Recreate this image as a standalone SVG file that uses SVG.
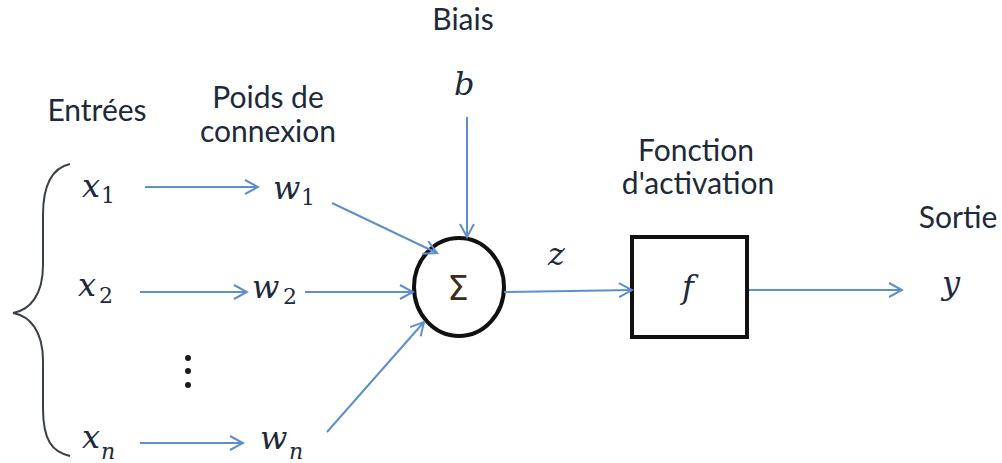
<svg xmlns="http://www.w3.org/2000/svg" width="1002" height="463" viewBox="0 0 1002 463">
<style>
.lbl{font-family:Lato,"Open Sans","Liberation Sans",sans-serif;font-size:30px;fill:#1c2a3c;text-anchor:middle}
.m{font-family:"DejaVu Serif","Liberation Serif",serif;font-style:italic;font-size:32px;fill:#1c2a3c}
.sub{font-family:"DejaVu Serif","Liberation Serif",serif;font-size:22px;fill:#1c2a3c}
.subi{font-family:"DejaVu Serif","Liberation Serif",serif;font-style:italic;font-size:22px;fill:#1c2a3c}
.c{fill:none;stroke:#5f8fcb;stroke-width:2;marker-end:url(#ah)}
</style>
<defs>
<marker id="ah" viewBox="0 0 16 16" refX="14" refY="8" markerWidth="16" markerHeight="16" markerUnits="userSpaceOnUse" orient="auto">
<path d="M1,1 L14,8 L1,15" fill="none" stroke="#5f8fcb" stroke-width="2"/>
</marker>
</defs>
<rect width="1002" height="463" fill="#ffffff"/>
<g id="brace"><path d="M70,164 C52,168 43,185 43,215 L43,265 C43,295 30,310 13,313 C30,316 43,331 43,361 L43,408 C43,440 52,452 70,456" fill="none" stroke="#3a4048" stroke-width="2"/></g>
<g id="labels">
<text class="lbl" x="97" y="121">Entrées</text>
<text class="lbl" x="268" y="108" font-size="27">Poids de</text>
<text class="lbl" x="268" y="142" font-size="27">connexion</text>
<text class="lbl" x="463" y="30" font-size="28">Biais</text>
<text class="lbl" x="696" y="161" font-size="27">Fonction</text>
<text class="lbl" x="698" y="194" font-size="27">d'activation</text>
<text class="lbl" x="958" y="228">Sortie</text>
</g>
<g id="x1"><text class="m" x="82" y="197">x</text><text class="sub" x="101" y="203">1</text></g>
<g id="x2"><text class="m" x="78" y="296">x</text><text class="sub" x="99" y="303">2</text></g>
<g id="xn"><text class="m" x="82" y="448">x</text><text class="subi" x="101" y="459">n</text></g>
<g id="w1"><text class="m" x="273" y="199">w</text><text class="sub" x="301" y="205">1</text></g>
<g id="w2"><text class="m" x="252" y="298">w</text><text class="sub" x="283" y="304">2</text></g>
<g id="wn"><text class="m" x="260" y="449">w</text><text class="subi" x="289" y="459">n</text></g>
<g id="dots" fill="#1a1a1a"><circle cx="188" cy="358" r="3"/><circle cx="188" cy="371" r="3"/><circle cx="188" cy="385" r="3"/></g>
<g id="b"><text class="m" x="454" y="95" font-size="27">b</text></g>
<g id="sum"><ellipse cx="459" cy="287" rx="45" ry="49" fill="#ffffff" stroke="#111111" stroke-width="4"/><text x="458" y="300" font-family="'DejaVu Sans',sans-serif" font-size="34" fill="#3a2c20" text-anchor="middle">Σ</text></g>
<g id="z"><text class="m" x="548" y="265" font-size="28">z</text></g>
<g id="f"><rect x="632" y="237" width="115" height="100" fill="#ffffff" stroke="#111111" stroke-width="4"/><text class="m" x="688" y="298" font-size="30" text-anchor="middle">f</text></g>
<g id="y"><text class="m" x="942" y="294" font-size="30">y</text></g>
<g id="connectors">
<path class="c" d="M145,187 L258,187"/>
<path class="c" d="M140,292 L247,292"/>
<path class="c" d="M140,443 L243,443"/>
<path class="c" d="M305,292 L413,292"/>
<path class="c" d="M332,203 L437,253"/>
<path class="c" d="M327,432 L424,322"/>
<path class="c" d="M467,117 L467,237"/>
<path class="c" d="M504,292 L632,290"/>
<path class="c" d="M749,290 L902,290"/>
</g>
</svg>
